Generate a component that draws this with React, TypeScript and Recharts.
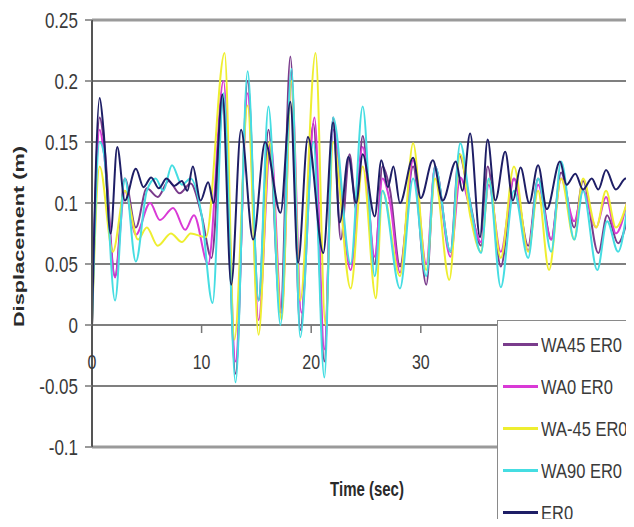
import React from 'react';
import { LineChart, Line, XAxis, YAxis, CartesianGrid, ReferenceLine, Legend } from 'recharts';

// ---- data (time in sec, displacement in m) ----
const er0Time = [0, 0.7, 1.05, 1.7, 2.3, 3.0, 4.0, 4.7, 5.4, 6.1, 6.8, 7.5, 8.2, 8.7, 9.2, 9.9, 10.6, 11.1, 11.9, 12.7, 13.6, 14.7, 15.8, 17.2, 18.1, 18.8, 19.7, 21.1, 22.0, 22.6, 23.4, 24.1, 24.7, 25.8, 26.4, 27.0, 27.5, 28.1, 29.3, 30.0, 31.1, 32.0, 33.2, 33.8, 34.5, 35.4, 36.1, 36.8, 37.7, 38.4, 39.1, 39.9, 40.7, 41.5, 42.7, 43.3, 44.1, 44.8, 45.6, 46.2, 46.9, 47.8, 48.7, 49.2];
const er0Disp = [0, 0.186, 0.16, 0.075, 0.146, 0.102, 0.128, 0.113, 0.121, 0.112, 0.12, 0.114, 0.118, 0.11, 0.13, 0.102, 0.117, 0.1, 0.189, 0.033, 0.16, 0.07, 0.15, 0.092, 0.183, 0.051, 0.154, 0.059, 0.166, 0.084, 0.138, 0.1, 0.14, 0.089, 0.135, 0.113, 0.13, 0.1, 0.137, 0.104, 0.135, 0.102, 0.134, 0.11, 0.157, 0.072, 0.152, 0.102, 0.142, 0.102, 0.129, 0.1, 0.131, 0.095, 0.134, 0.115, 0.124, 0.111, 0.12, 0.111, 0.127, 0.111, 0.12, 0.116];

const wa45Time = [0, 0.7, 1.1, 2.1, 3.0, 4.0, 5.0, 6.0, 7.0, 8.0, 9.0, 10.0, 10.9, 12.0, 13.1, 14.2, 15.2, 16.1, 17.2, 18.1, 19.0, 20.2, 21.2, 22.0, 22.7, 23.5, 24.1, 24.7, 25.8, 26.5, 27.2, 28.1, 29.3, 30.5, 31.3, 32.7, 33.5, 34.4, 35.5, 36.1, 37.3, 38.5, 39.8, 40.7, 41.9, 42.8, 44.0, 44.8, 46.2, 47.0, 48.0, 48.8];
const wa45Disp = [0, 0.17, 0.15, 0.04, 0.12, 0.08, 0.112, 0.105, 0.118, 0.108, 0.116, 0.09, 0.055, 0.185, -0.04, 0.2, 0.02, 0.16, 0.01, 0.22, -0.004, 0.165, -0.03, 0.17, 0.07, 0.14, 0.095, 0.155, 0.05, 0.13, 0.11, 0.048, 0.13, 0.033, 0.13, 0.06, 0.14, 0.105, 0.065, 0.13, 0.048, 0.12, 0.065, 0.12, 0.07, 0.125, 0.08, 0.118, 0.059, 0.09, 0.067, 0.085];

const wa0Time = [0, 0.7, 1.1, 2.1, 3.0, 4.0, 5.3, 6.2, 7.4, 8.5, 9.3, 10.6, 12.0, 13.1, 14.2, 15.2, 16.3, 17.3, 18.2, 19.1, 20.3, 21.2, 22.0, 23.6, 24.7, 25.8, 26.5, 27.2, 28.1, 29.3, 30.5, 31.3, 32.7, 33.6, 34.5, 35.5, 36.2, 37.3, 38.5, 39.8, 40.7, 41.9, 42.8, 44.0, 44.8, 46.0, 46.9, 47.8, 48.8];
const wa0Disp = [0, 0.16, 0.14, 0.039, 0.11, 0.074, 0.1, 0.086, 0.096, 0.078, 0.09, 0.05, 0.2, -0.03, 0.19, 0.004, 0.15, 0.01, 0.2, 0.01, 0.17, -0.02, 0.16, 0.045, 0.146, 0.056, 0.12, 0.1, 0.043, 0.135, 0.05, 0.13, 0.056, 0.121, 0.095, 0.068, 0.115, 0.06, 0.12, 0.061, 0.115, 0.07, 0.12, 0.085, 0.11, 0.08, 0.105, 0.075, 0.1];

const wam45Time = [0, 0.7, 1.9, 3.0, 4.2, 5.0, 6.0, 7.2, 8.2, 9.0, 10.4, 12.1, 13.0, 14.2, 15.2, 16.2, 17.3, 18.2, 19.0, 20.4, 21.3, 22.0, 23.6, 24.7, 25.9, 26.5, 28.1, 29.3, 30.5, 31.3, 32.6, 33.6, 34.5, 35.5, 36.2, 37.3, 38.5, 39.8, 40.7, 41.7, 42.8, 44.0, 44.8, 46.0, 46.9, 47.8, 48.8];
const wam45Disp = [0, 0.13, 0.06, 0.11, 0.07, 0.08, 0.065, 0.075, 0.068, 0.075, 0.072, 0.223, -0.012, 0.18, -0.008, 0.15, 0.004, 0.2, 0.02, 0.223, 0.0, 0.15, 0.03, 0.13, 0.022, 0.11, 0.04, 0.149, 0.045, 0.12, 0.037, 0.14, 0.09, 0.06, 0.119, 0.055, 0.13, 0.06, 0.11, 0.045, 0.12, 0.07, 0.12, 0.08, 0.11, 0.08, 0.1];

const wa90Time = [0, 0.7, 1.1, 2.1, 3.0, 4.0, 5.0, 5.8, 6.5, 7.3, 8.2, 9.0, 10.0, 11.0, 12.0, 13.1, 14.2, 15.2, 16.1, 17.2, 18.2, 19.0, 20.2, 21.2, 22.0, 23.6, 24.7, 25.8, 26.5, 28.1, 29.3, 30.5, 31.3, 32.7, 33.6, 34.5, 35.5, 36.2, 37.3, 38.5, 39.8, 40.7, 41.9, 42.8, 44.0, 44.8, 46.1, 47.0, 48.0, 48.8];
const wa90Disp = [0, 0.15, 0.14, 0.02, 0.12, 0.052, 0.11, 0.12, 0.11, 0.131, 0.115, 0.12, 0.09, 0.018, 0.19, -0.047, 0.208, 0.02, 0.179, 0.0, 0.21, -0.01, 0.15, -0.043, 0.17, 0.05, 0.179, 0.04, 0.11, 0.03, 0.12, 0.04, 0.13, 0.06, 0.149, 0.1, 0.059, 0.12, 0.031, 0.11, 0.055, 0.12, 0.06, 0.134, 0.07, 0.11, 0.045, 0.085, 0.06, 0.094];

const xTicks = [0, 10, 20, 30, 40];
const yTicks = [-0.1, -0.05, 0, 0.05, 0.1, 0.15, 0.2, 0.25];
const seriesNames = ['WA45 ER0', 'WA0 ER0', 'WA-45 ER0', 'WA90 ER0', 'ER0'];
const seriesColors = ['#7a3c8c', '#d93ad6', '#eeee30', '#45dde2', '#1e1e66'];

// ---- layout ----
const FONT = '"Liberation Sans", Arial, sans-serif';
const CHART_W = 637;
const CHART_H = 519;
const MARGIN = { top: 12, right: 5, left: 0, bottom: 50 };
const Y_AXIS_W = 84;
const X_AXIS_H = 30;
const Y_MIN = -0.1;
const Y_MAX = 0.25;
const PLOT_H = CHART_H - MARGIN.top - MARGIN.bottom - X_AXIS_H;
const ZERO_Y = MARGIN.top + (PLOT_H * (Y_MAX - 0)) / (Y_MAX - Y_MIN);

const pts = (ts: number[], vs: number[]) => ts.map((t, i) => ({ t, v: vs[i] }));
const seriesData = [
  pts(wa45Time, wa45Disp),
  pts(wa0Time, wa0Disp),
  pts(wam45Time, wam45Disp),
  pts(wa90Time, wa90Disp),
  pts(er0Time, er0Disp),
];

const fmtY = (v: number) => String(parseFloat(v.toFixed(2)));

const YTick = (props: any) => {
  const { x, y, payload } = props;
  return (
    <text
      transform={`translate(${x},${y}) scale(1,1.3)`}
      textAnchor="end"
      dominantBaseline="central"
      fontSize={17}
      fontFamily={FONT}
      fill="#3a3a3a"
    >
      {fmtY(payload.value)}
    </text>
  );
};

const XTick = (props: any) => {
  const { x, payload } = props;
  return (
    <g>
      {payload.value !== 0 && (
        <line x1={x} x2={x} y1={ZERO_Y} y2={ZERO_Y + 8} stroke="#777" strokeWidth={1.5} />
      )}
      <text
        transform={`translate(${x},${ZERO_Y + 37}) scale(1,1.3)`}
        textAnchor="middle"
        dominantBaseline="central"
        fontSize={16}
        fontFamily={FONT}
        fill="#3a3a3a"
      >
        {payload.value}
      </text>
    </g>
  );
};

const YTitle = (props: any) => {
  const vb = props.viewBox || { x: 0, y: 0, width: 0, height: 0 };
  const cx = vb.x + 11;
  const cy = vb.y + vb.height / 2 + 3;
  return (
    <text
      transform={`translate(${cx},${cy}) rotate(-90) scale(1.45,1)`}
      textAnchor="middle"
      dominantBaseline="central"
      fontSize={15}
      fontWeight="bold"
      fontFamily={FONT}
      fill="#2a2a2a"
    >
      Displacement (m)
    </text>
  );
};

const XTitle = (props: any) => {
  const vb = props.viewBox || { x: 0, y: 0, width: 0, height: 0 };
  const cx = vb.x + vb.width / 2 + 1;
  const cy = vb.y + 42;
  return (
    <text
      transform={`translate(${cx},${cy}) scale(1,1.3)`}
      textAnchor="middle"
      dominantBaseline="central"
      fontSize={15}
      fontWeight="bold"
      fontFamily={FONT}
      fill="#2a2a2a"
    >
      Time (sec)
    </text>
  );
};

const LegendBox = () => (
  <div
    style={{
      width: '100%',
      height: '100%',
      boxSizing: 'border-box',
      background: '#fff',
      border: '1.5px solid #8a8a8a',
      position: 'relative',
      fontFamily: FONT,
    }}
  >
    {seriesNames.map((name, i) => (
      <div
        key={name}
        style={{
          position: 'absolute',
          left: 5,
          top: 23 + 42 * i,
          transform: 'translateY(-50%)',
          display: 'flex',
          alignItems: 'center',
          whiteSpace: 'nowrap',
        }}
      >
        <span style={{ display: 'inline-block', width: 35, height: 3, background: seriesColors[i], marginRight: 3 }} />
        <span style={{ display: 'inline-block', fontSize: 16.5, color: '#3a3a3a', transform: 'scaleY(1.28)', lineHeight: '20px' }}>
          {name}
        </span>
      </div>
    ))}
  </div>
);

export default function App() {
  return (
    <div style={{ width: 626, height: CHART_H, overflow: 'hidden', marginBottom: -8, background: '#fff' }}>
      <LineChart width={CHART_W} height={CHART_H} margin={MARGIN}>
        <CartesianGrid vertical={false} stroke="#555" strokeWidth={1.5} />
        <XAxis
          type="number"
          dataKey="t"
          domain={[0, 50]}
          ticks={xTicks}
          height={X_AXIS_H}
          axisLine={false}
          tickLine={false}
          tick={<XTick />}
          interval={0}
          allowDataOverflow
          label={{ content: <XTitle /> }}
        />
        <YAxis
          type="number"
          domain={[Y_MIN, Y_MAX]}
          ticks={yTicks}
          width={Y_AXIS_W}
          axisLine={{ stroke: '#555', strokeWidth: 2 }}
          tickLine={{ stroke: '#777', strokeWidth: 1.5 }}
          tickSize={7}
          tickMargin={7}
          tick={<YTick />}
          interval={0}
          allowDataOverflow
          label={{ content: <YTitle /> }}
        />
        <ReferenceLine y={Y_MAX} stroke="#9a9a9a" strokeWidth={3} />
        <ReferenceLine y={Y_MIN} stroke="#9a9a9a" strokeWidth={3} />
        {seriesData.map((d, i) => (
          <Line
            key={seriesNames[i]}
            data={d}
            dataKey="v"
            name={seriesNames[i]}
            type="monotone"
            stroke={seriesColors[i]}
            strokeWidth={2}
            dot={false}
            activeDot={false}
            isAnimationActive={false}
          />
        ))}
        <Legend
          layout="vertical"
          align="center"
          verticalAlign="middle"
          wrapperStyle={{ position: 'absolute', left: 489, top: 312, width: 160, height: 230 }}
          content={<LegendBox />}
        />
      </LineChart>
    </div>
  );
}
